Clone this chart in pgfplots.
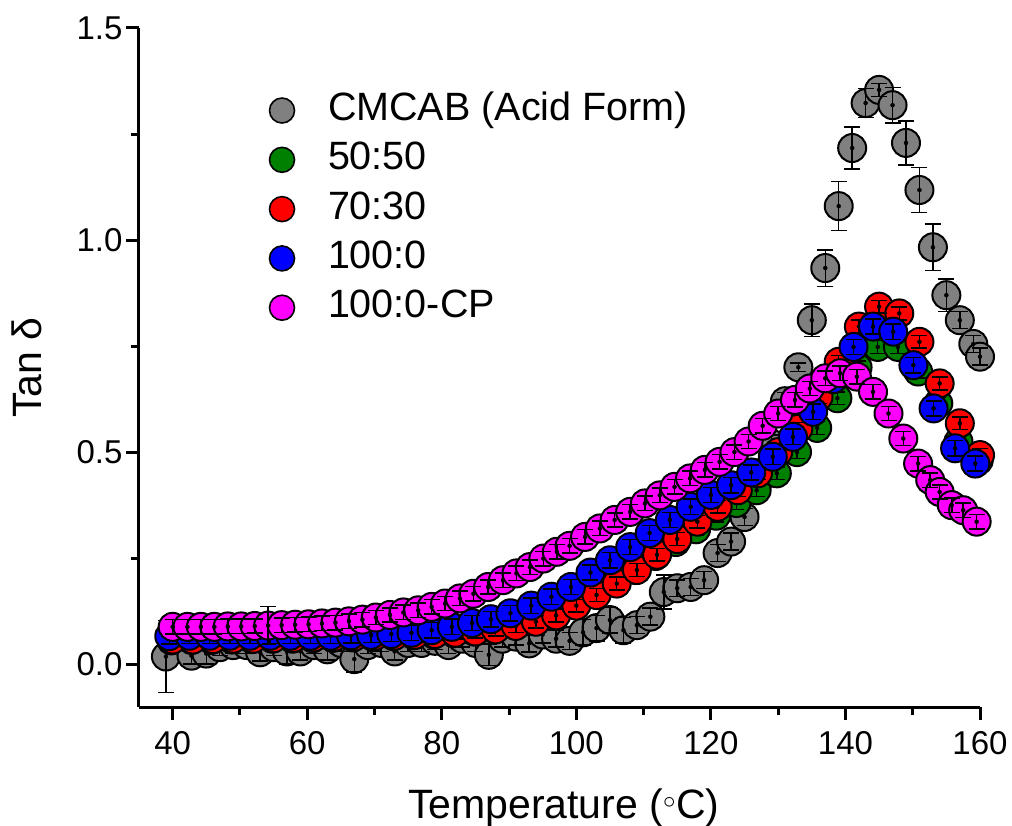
\documentclass[border=0pt]{standalone}
\usepackage{fontspec}
\setmainfont{Liberation Sans}
\usepackage{pgfplots}
\usepackage{pgfplotstable}
\pgfplotsset{compat=1.18}
\definecolor{cgray}{RGB}{128,128,128}
\definecolor{cgreen}{RGB}{0,128,0}
\definecolor{cred}{RGB}{255,0,0}
\definecolor{cblue}{RGB}{0,0,255}
\definecolor{cmag}{RGB}{255,0,255}

\pgfplotstableread{
T v e
39 0.018 0.085
42.8 0.02 0.02
45 0.025 0.025
47 0.04 0.02
49 0.045 0.02
51 0.045 0.02
53 0.028 0.02
55 0.04 0.02
57 0.03 0.03
59 0.03 0.02
61 0.045 0.02
63 0.035 0.025
65 0.05 0.02
67 0.012 0.03
69 0.045 0.02
71 0.05 0.02
73 0.03 0.02
75 0.05 0.02
77 0.05 0.02
79 0.055 0.02
81 0.045 0.02
83 0.06 0.02
85 0.05 0.02
87 0.022 0.025
89 0.06 0.02
91 0.065 0.02
93 0.049 0.02
95 0.07 0.02
97 0.06 0.02
99 0.055 0.02
101 0.075 0.03
103 0.085 0.03
105 0.104 0.03
107 0.08 0.03
109 0.092 0.02
111 0.112 0.02
113 0.17 0.04
115 0.179 0.02
117 0.182 0.02
119 0.198 0.02
121 0.262 0.02
123 0.289 0.02
125 0.347 0.02
127 0.43 0.02
129 0.52 0.02
131 0.62 0.02
133 0.70 0.01
135 0.811 0.038
137 0.934 0.043
139 1.08 0.058
141 1.217 0.05
143 1.323 0.034
145 1.354 0.015
147 1.318 0.042
149 1.229 0.052
151 1.118 0.053
153 0.983 0.055
155 0.87 0.038
157 0.811 0.02
159 0.755 0.02
160 0.725 0.02
}\tgray

\pgfplotstableread{
T v e
39.8 0.056 0.015
42.8 0.057 0.015
45.8 0.057 0.015
48.8 0.058 0.015
51.8 0.059 0.015
54.8 0.06 0.015
57.8 0.06 0.015
60.8 0.061 0.015
63.8 0.062 0.015
66.8 0.063 0.015
69.8 0.064 0.015
72.8 0.066 0.015
75.8 0.068 0.015
78.8 0.07 0.015
81.8 0.073 0.015
84.8 0.077 0.015
87.8 0.083 0.015
90.8 0.092 0.015
93.8 0.104 0.015
96.8 0.12 0.015
99.8 0.14 0.015
102.8 0.165 0.015
105.8 0.192 0.015
108.8 0.222 0.015
111.8 0.255 0.015
114.8 0.288 0.015
117.8 0.318 0.015
120.8 0.35 0.015
123.8 0.38 0.015
126.8 0.41 0.015
129.8 0.45 0.015
132.8 0.50 0.015
135.8 0.557 0.015
138.8 0.627 0.015
141.8 0.70 0.015
144.8 0.748 0.015
147.8 0.748 0.015
150.8 0.69 0.015
153.8 0.615 0.015
156.8 0.525 0.015
159.8 0.48 0.015
}\tgreen

\pgfplotstableread{
T v e
40 0.058 0.015
43 0.058 0.015
46 0.059 0.015
49 0.06 0.015
52 0.06 0.015
55 0.061 0.015
58 0.062 0.015
61 0.063 0.015
64 0.064 0.015
67 0.065 0.015
70 0.066 0.015
73 0.067 0.015
76 0.069 0.015
79 0.071 0.015
82 0.074 0.015
85 0.077 0.015
88 0.082 0.015
91 0.09 0.015
94 0.1 0.015
97 0.115 0.015
100 0.138 0.015
103 0.163 0.015
106 0.19 0.015
109 0.222 0.015
112 0.258 0.015
115 0.295 0.015
118 0.336 0.015
121 0.371 0.015
124 0.41 0.015
127 0.45 0.015
130 0.5 0.015
133 0.555 0.015
136 0.63 0.015
139 0.713 0.015
142 0.796 0.015
145 0.843 0.015
148 0.827 0.015
151 0.76 0.015
154 0.662 0.015
157 0.568 0.015
160 0.493 0.015
}\tred

\pgfplotstableread{
T v e
39.5 0.066 0.018
42.5 0.067 0.018
45.5 0.067 0.018
48.5 0.067 0.018
51.5 0.067 0.018
54.5 0.067 0.018
57.5 0.067 0.018
60.5 0.067 0.018
63.5 0.067 0.018
66.5 0.068 0.018
69.5 0.069 0.018
72.5 0.071 0.018
75.5 0.074 0.018
78.5 0.08 0.018
81.5 0.088 0.018
84.5 0.097 0.018
87.3 0.106 0.018
90.2 0.12 0.018
93.3 0.138 0.018
96.3 0.159 0.018
99.2 0.182 0.018
102.1 0.216 0.018
105 0.245 0.018
108 0.276 0.018
110.9 0.309 0.018
113.9 0.340 0.018
117 0.371 0.018
120 0.399 0.018
123 0.422 0.018
126 0.452 0.018
129.2 0.489 0.018
132.2 0.536 0.018
135.2 0.595 0.018
138.2 0.672 0.018
141.2 0.748 0.018
144.1 0.796 0.018
147.1 0.784 0.018
150.1 0.705 0.018
153.1 0.603 0.018
156.3 0.509 0.018
159.3 0.473 0.018
}\tblue

\pgfplotstableread{
T v e
40 0.088 0.017
42.2 0.088 0.017
44.2 0.088 0.017
46.2 0.088 0.017
48.2 0.089 0.017
50.2 0.089 0.017
52.2 0.09 0.017
54.2 0.091 0.045
56.2 0.092 0.017
58.2 0.093 0.017
60.2 0.094 0.017
62.2 0.096 0.017
64.2 0.098 0.017
66.2 0.101 0.017
68.2 0.105 0.017
70.2 0.11 0.017
72.3 0.116 0.017
74.3 0.122 0.017
76.5 0.127 0.017
78.5 0.135 0.017
80.5 0.143 0.017
82.7 0.155 0.017
84.7 0.166 0.017
86.9 0.182 0.017
89.1 0.198 0.017
91.1 0.214 0.017
93.1 0.229 0.017
95.1 0.249 0.017
97.1 0.265 0.017
99 0.279 0.017
101.3 0.30 0.017
103.5 0.32 0.017
105.7 0.34 0.017
108 0.359 0.017
110.2 0.379 0.017
112.4 0.398 0.017
114.6 0.418 0.017
116.9 0.438 0.017
119.1 0.458 0.017
121.3 0.477 0.017
123.5 0.50 0.017
125.6 0.525 0.017
127.7 0.562 0.017
130 0.591 0.017
132.5 0.623 0.017
134.7 0.65 0.017
137 0.674 0.017
139.2 0.686 0.017
141.7 0.678 0.017
144.1 0.642 0.017
146.4 0.591 0.017
148.6 0.532 0.017
150.8 0.473 0.017
152.6 0.434 0.017
154 0.406 0.017
155.8 0.375 0.017
157.5 0.363 0.017
159.5 0.336 0.017
}\tmag

\pgfplotsset{
  ser/.style={only marks, mark=*, mark size=14pt,
    mark options={fill=#1, draw=black, line width=2pt}},
  errs/.style={only marks, mark=none, forget plot,
    error bars/.cd, y dir=both, y explicit,
    error bar style={line width=1.5pt, black, solid},
    error mark=-,
    error mark options={black, line width=1.5pt, mark size=8pt, rotate=90}},
}

\begin{document}
\begin{tikzpicture}
\begin{axis}[name=ax, scale only axis, width=841pt, height=679pt,
  xmin=35, xmax=160, ymin=-0.101, ymax=1.5, clip=false, clip marker paths=true,
  axis lines*=left, axis line style={-, line width=3pt},
  xtick={40,60,...,160}, ytick={0,0.5,1,1.5},
  minor x tick num=1, minor y tick num=1,
  tick align=outside, major tick length=13pt, minor tick length=8pt,
  every tick/.style={line width=3pt, black},
  /pgf/number format/assume math mode=true,
  tick label style={font=\fontsize{33}{38}\selectfont},
  xticklabel style={yshift=-8pt},
  yticklabel style={/pgf/number format/fixed, /pgf/number format/fixed zerofill, /pgf/number format/precision=1},
  xlabel={Temperature ($^{\circ}$C)}, ylabel={Tan δ},
  label style={font=\fontsize{41}{48}\selectfont},
  xlabel style={at={(axis description cs:0.505,-0.1635)}, anchor=base},
  ylabel style={at={(axis description cs:-0.1332,0.5)}, anchor=center},
  legend image code/.code={\draw[#1, mark size=12.5pt, every mark/.append style={line width=1.6pt}] plot coordinates {(0pt,-3.5pt)};},
  legend cell align=left,
  legend style={at={(axis description cs:0.1552,0.9035)}, anchor=north west,
    draw=none, fill=none, inner sep=0pt, outer sep=0pt,
    font=\fontsize{39.5}{46}\selectfont, row sep=19.8pt,
    nodes={inner sep=0pt, text height=27pt, text depth=0pt},
    /tikz/every odd column/.append style={column sep=33.5pt}},
]
\addplot[ser=cgray] table[x=T, y=v] {\tgray};
\addlegendentry{CMCAB (Acid Form)}
\addplot[errs] table[x=T, y=v, y error=e] {\tgray};
\addplot[ser=cgreen] table[x=T, y=v] {\tgreen};
\addlegendentry{50:50}
\addplot[errs] table[x=T, y=v, y error=e] {\tgreen};
\addplot[ser=cred] table[x=T, y=v] {\tred};
\addlegendentry{70:30}
\addplot[errs] table[x=T, y=v, y error=e] {\tred};
\addplot[ser=cblue] table[x=T, y=v] {\tblue};
\addlegendentry{100:0}
\addplot[errs] table[x=T, y=v, y error=e] {\tblue};
\addplot[ser=cmag] table[x=T, y=v] {\tmag};
\addlegendentry{100:0-CP}
\addplot[errs] table[x=T, y=v, y error=e] {\tmag};
\end{axis}
\pgfresetboundingbox
\path ([shift={(-139pt,-118pt)}]ax.south west) rectangle ([shift={(32pt,28pt)}]ax.north east);
\end{tikzpicture}
\end{document}
